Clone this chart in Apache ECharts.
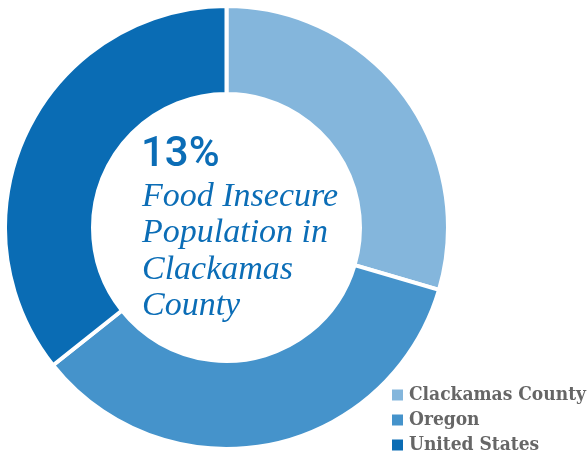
<!DOCTYPE html>
<html>
<head>
<meta charset="utf-8">
<script src="https://cdn.jsdelivr.net/npm/echarts@6/dist/echarts.min.js"></script>
<style>
  html, body { margin: 0; padding: 0; background: #fff; }
  #chart { width: 588px; height: 460px; }
</style>
</head>
<body>
<div id="chart"></div>
<script>
// food insecurity rates (%)
var regions = ['Clackamas County', 'Oregon', 'United States'];
var rates = [13, 15.3, 15.7];
var colors = ['#84b6dc', '#4593cb', '#0a6cb4'];

var headline = '13%';
var captionLines = ['Food Insecure', 'Population in', 'Clackamas', 'County'];

var chart = echarts.init(document.getElementById('chart'));

var pieData = regions.map(function (name, i) {
  return { name: name, value: rates[i], itemStyle: { color: colors[i] } };
});

// center text
var textEls = [{
  type: 'text',
  left: 141,
  top: 134,
  style: {
    text: headline,
    font: '500 42px Roboto',
    fill: '#0b6db6'
  }
}];
captionLines.forEach(function (line, i) {
  textEls.push({
    type: 'text',
    left: 142,
    top: 180 + i * 36.3,
    style: {
      text: line,
      font: 'italic 400 34px "Liberation Serif"',
      fill: '#0b6db6'
    }
  });
});

var option = {
  animation: false,
  legend: {
    orient: 'vertical',
    left: 390,
    top: 385,
    padding: 0,
    icon: 'rect',
    itemWidth: 13,
    itemHeight: 13,
    itemGap: 5,
    selectedMode: false,
    textStyle: {
      fontFamily: '"DejaVu Serif Condensed", "DejaVu Serif"',
      fontWeight: 'bold',
      fontSize: 19,
      lineHeight: 20,
      color: '#666666'
    },
    data: regions
  },
  graphic: textEls,
  series: [{
    type: 'pie',
    center: [226.5, 227.5],
    radius: [133.5, 221.5],
    startAngle: 90,
    clockwise: true,
    label: { show: false },
    labelLine: { show: false },
    emphasis: { disabled: true },
    itemStyle: { borderColor: '#ffffff', borderWidth: 4 },
    data: pieData
  }]
};

chart.setOption(option);
</script>
</body>
</html>
